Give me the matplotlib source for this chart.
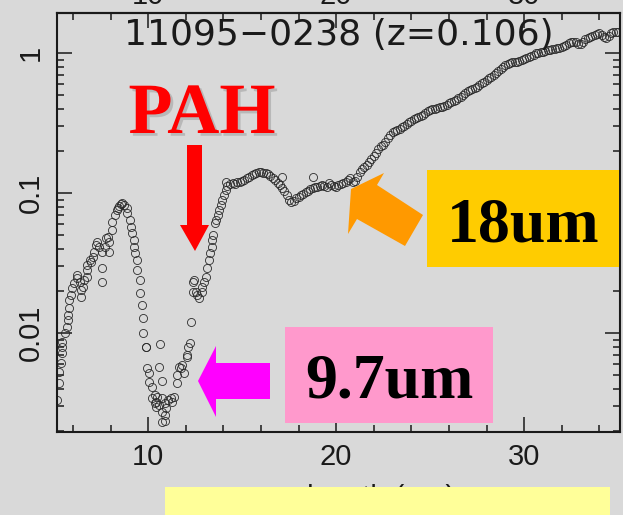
import numpy as np
import matplotlib
matplotlib.use("Agg")
import matplotlib.pyplot as plt
from matplotlib.patches import Polygon, Rectangle
from matplotlib.ticker import FixedLocator, FuncFormatter, LogLocator, MultipleLocator, NullFormatter
import matplotlib.patheffects as pe

# short-wavelength part of the spectrum (noisy, silicate absorption)
wave_sl = [5.16, 5.23, 5.28, 5.34, 5.39, 5.39, 5.44, 5.55, 5.66, 5.71, 5.71, 5.81, 5.81, 5.92,
           5.97, 6.08, 6.19, 6.24, 6.35, 6.45, 6.45, 6.51, 6.61, 6.72, 6.72, 6.77, 6.88, 6.98,
           7.04, 7.14, 7.25, 7.30, 7.41, 7.52, 7.52, 7.57, 7.68, 7.78, 7.84, 7.94, 7.94, 8.05,
           8.10, 8.21, 8.32, 8.37, 8.47, 8.58, 8.63, 8.74, 8.85, 8.90, 9.01, 9.11, 9.16, 9.22,
           9.27, 9.32, 9.38, 9.43, 9.54, 9.59, 9.65, 9.70, 9.75, 9.86, 9.91, 9.96, 10.02, 10.07,
           10.18, 10.23, 10.34, 10.34, 10.44, 10.44, 10.49, 10.60, 10.60, 10.65, 10.71, 10.76,
           10.76, 10.76, 10.87, 10.87, 10.92, 10.97, 11.03, 11.24, 11.29, 11.40, 11.51, 11.56,
           11.66, 11.77, 11.82, 11.93, 12.04, 12.09, 12.14, 12.20, 12.30, 12.36, 12.36, 12.46,
           12.57, 12.62, 12.73, 12.84, 12.89, 12.99, 13.10, 13.15, 13.26, 13.31, 13.37, 13.42,
           13.47, 13.53, 13.63, 13.69, 13.79, 13.90, 13.95, 14.06, 14.16, 14.16]
flux_sl = [0.00334, 0.00442, 0.00529, 0.00614, 0.00722, 0.00798, 0.00867, 0.0101, 0.0111, 0.0125,
           0.0135, 0.0152, 0.0173, 0.0188, 0.0211, 0.0229, 0.0248, 0.0261, 0.0232, 0.0204, 0.0182,
           0.0214, 0.0240, 0.0252, 0.0283, 0.0308, 0.0334, 0.0323, 0.0351, 0.0381, 0.0427, 0.0449,
           0.0413, 0.0381, 0.0232, 0.0293, 0.0413, 0.0480, 0.0488, 0.0449, 0.0381, 0.0547, 0.0624,
           0.0700, 0.0760, 0.0785, 0.0811, 0.0839, 0.0853, 0.0824, 0.0785, 0.0723, 0.0644, 0.0574,
           0.0520, 0.0463, 0.0413, 0.0375, 0.0334, 0.0283, 0.0240, 0.0194, 0.0159, 0.0128, 0.0101,
           0.00798, 0.00798, 0.00565, 0.00520, 0.00449, 0.00413, 0.00345, 0.00318, 0.00362,
           0.00298, 0.00323, 0.00351, 0.00308, 0.00574, 0.00839, 0.00456, 0.00274, 0.00233,
           0.00345, 0.00318, 0.00237, 0.00261, 0.00293, 0.00334, 0.00345, 0.00323, 0.00351,
           0.00442, 0.00504, 0.00574, 0.00565, 0.00593, 0.00520, 0.00677, 0.00700, 0.00798,
           0.00853, 0.0121, 0.0232, 0.0197, 0.0240, 0.0197, 0.0188, 0.0179, 0.0197, 0.0214,
           0.0232, 0.0252, 0.0293, 0.0334, 0.0375, 0.0413, 0.0463, 0.0504, 0.0614, 0.0644,
           0.0700, 0.0760, 0.0824, 0.0896, 0.0972, 0.1056, 0.1205]

# long-wavelength part of the spectrum
wave_ll = [14.20, 14.35, 14.50, 14.62, 14.75, 14.88, 15.00, 15.12, 15.25, 15.38, 15.50, 15.62,
           15.75, 15.88, 16.00, 16.12, 16.25, 16.38, 16.50, 16.62, 16.75, 16.88, 17.00, 17.12,
           17.14, 17.25, 17.38, 17.50, 17.62, 17.75, 17.88, 18.00, 18.12, 18.25, 18.38, 18.50,
           18.62, 18.75, 18.79, 18.88, 19.00, 19.12, 19.25, 19.38, 19.50, 19.62, 19.75, 19.88,
           20.00, 20.12, 20.25, 20.38, 20.50, 20.62, 20.75, 20.88, 21.00, 21.12, 21.25, 21.38,
           21.50, 21.62, 21.75, 21.88, 22.00, 22.12, 22.25, 22.38, 22.50, 22.62, 22.75, 22.88,
           23.00, 23.12, 23.25, 23.38, 23.50, 23.62, 23.75, 23.88, 24.00, 24.12, 24.25, 24.38,
           24.50, 24.62, 24.75, 24.88, 25.00, 25.12, 25.25, 25.38, 25.50, 25.62, 25.75, 25.88,
           26.00, 26.12, 26.25, 26.38, 26.50, 26.62, 26.75, 26.88, 27.00, 27.12, 27.25, 27.38,
           27.50, 27.62, 27.75, 27.88, 28.00, 28.12, 28.25, 28.38, 28.50, 28.62, 28.75, 28.88,
           29.00, 29.12, 29.25, 29.38, 29.50, 29.62, 29.75, 29.88, 30.00, 30.12, 30.25, 30.38,
           30.50, 30.62, 30.75, 30.88, 31.00, 31.12, 31.25, 31.38, 31.50, 31.62, 31.75, 31.88,
           32.00, 32.12, 32.25, 32.38, 32.50, 32.62, 32.75, 32.88, 33.00, 33.12, 33.25, 33.38,
           33.50, 33.62, 33.75, 33.88, 34.00, 34.12, 34.25, 34.38, 34.50, 34.62, 34.75, 34.88,
           35.00]
flux_ll = [0.112, 0.116, 0.119, 0.117, 0.120, 0.121, 0.122, 0.124, 0.128, 0.131, 0.134, 0.137,
           0.140, 0.142, 0.141, 0.139, 0.140, 0.137, 0.133, 0.129, 0.124, 0.118, 0.114, 0.109,
           0.131, 0.104, 0.097, 0.090, 0.086, 0.088, 0.092, 0.094, 0.097, 0.099, 0.102, 0.104,
           0.107, 0.109, 0.131, 0.111, 0.110, 0.112, 0.115, 0.113, 0.111, 0.118, 0.115, 0.112,
           0.111, 0.114, 0.116, 0.119, 0.121, 0.125, 0.128, 0.121, 0.122, 0.131, 0.142, 0.150,
           0.155, 0.160, 0.166, 0.176, 0.186, 0.194, 0.206, 0.216, 0.223, 0.231, 0.248, 0.262,
           0.272, 0.279, 0.284, 0.290, 0.297, 0.303, 0.313, 0.322, 0.330, 0.337, 0.344, 0.351,
           0.357, 0.364, 0.376, 0.388, 0.394, 0.398, 0.403, 0.407, 0.410, 0.413, 0.420, 0.430,
           0.440, 0.447, 0.454, 0.462, 0.476, 0.491, 0.506, 0.521, 0.538, 0.549, 0.558, 0.567,
           0.578, 0.595, 0.610, 0.628, 0.645, 0.662, 0.682, 0.702, 0.720, 0.742, 0.775, 0.800,
           0.820, 0.840, 0.853, 0.860, 0.865, 0.868, 0.880, 0.894, 0.905, 0.920, 0.938, 0.955,
           0.978, 1.000, 1.010, 1.018, 1.022, 1.035, 1.048, 1.058, 1.068, 1.080, 1.092, 1.100,
           1.108, 1.125, 1.150, 1.180, 1.195, 1.200, 1.205, 1.160, 1.170, 1.205, 1.260, 1.295,
           1.310, 1.330, 1.352, 1.375, 1.396, 1.350, 1.310, 1.290, 1.330, 1.390, 1.410, 1.420,
           1.425]

y_ticks = [0.01, 0.1, 1]
title = "11095\u22120238 (z=0.106)"

BG = "#d9d9d9"
INK = "#1a1a1a"
W, H = 623, 515


def fpx(points):
    # pixel positions on the slide -> figure fraction
    return [(x / W, 1 - y / H) for x, y in points]


def add_box(fig, x0, y0, x1, y1, color):
    fig.add_artist(Rectangle((x0 / W, 1 - y1 / H), (x1 - x0) / W, (y1 - y0) / H,
                             transform=fig.transFigure, facecolor=color, edgecolor="none", zorder=5))


def add_arrow(fig, points, color):
    fig.add_artist(Polygon(fpx(points), closed=True, transform=fig.transFigure,
                           facecolor=color, edgecolor="none", zorder=6))


plt.rcParams["font.family"] = ["Liberation Sans", "DejaVu Sans"]

fig = plt.figure(figsize=(6.23, 5.15), dpi=100, facecolor=BG)
ax = fig.add_axes([57 / W, 1 - 431.7 / H, (620 - 57) / W, (431.7 - 12.7) / H])
ax.set_facecolor(BG)

style = dict(linestyle="none", marker="o", markersize=5.8, markerfacecolor="none",
             markeredgecolor="#2a2a2a", markeredgewidth=0.6)
ax.plot(wave_sl, flux_sl, **style)
ax.plot(wave_ll, flux_ll, **style)

ax.set_yscale("log")
ax.set_xlim(5.15, 35.1)
ax.set_ylim(0.00198, 1.95)

ax.xaxis.set_major_locator(MultipleLocator(10))
ax.xaxis.set_minor_locator(MultipleLocator(2))
ax.yaxis.set_major_locator(FixedLocator(y_ticks))
ax.yaxis.set_major_formatter(FuncFormatter(lambda v, p: f"{v:g}"))
ax.yaxis.set_minor_locator(LogLocator(base=10, subs=np.arange(2, 10)))
ax.yaxis.set_minor_formatter(NullFormatter())

for side in ax.spines.values():
    side.set_linewidth(1.5)
    side.set_color(INK)
ax.tick_params(which="both", direction="in", left=True, right=True, top=False, bottom=True,
               color=INK, width=1.1, labelsize=21, labelcolor=INK)
ax.tick_params(which="major", length=10.8)
ax.tick_params(which="minor", length=5)
ax.tick_params(axis="x", which="major", pad=8)
ax.tick_params(axis="y", which="major", pad=9, labelrotation=90)
plt.setp(ax.get_yticklabels(), va="center")

top = ax.secondary_xaxis("top")
top.xaxis.set_major_locator(MultipleLocator(10))
top.xaxis.set_minor_locator(MultipleLocator(2))
top.spines["top"].set_linewidth(1.5)
top.tick_params(which="both", direction="in", color=INK, width=1.1, labelsize=21, labelcolor=INK)
top.tick_params(which="major", length=10.8, pad=2)
top.tick_params(which="minor", length=5)

ax.text(0.5, 0.947, title, transform=ax.transAxes, ha="center", va="center",
        fontsize=26, family="DejaVu Sans", color=INK)

ax.set_xlabel("wavelength (\u03bcm)", fontsize=21, color=INK)
ax.xaxis.set_label_coords(0.515, -0.125)

# slide annotations
add_box(fig, 165, 487, 610, 515, "#ffff99")
add_box(fig, 427, 170, 619, 267, "#ffcc00")
add_box(fig, 285, 327, 493, 423, "#ff99cc")

add_arrow(fig, [(187, 145), (202, 145), (202, 225), (209, 225), (195, 251),
                (180, 225), (187, 225)], "#ff0000")
add_arrow(fig, [(198, 381), (216, 346), (216, 363), (270, 363), (270, 399),
                (216, 399), (216, 417)], "#ff00ff")
add_arrow(fig, [(351, 189), (384, 173), (377, 185), (423, 215), (405, 246),
                (357, 219), (348, 234)], "#ff9900")

fig.text(202 / W, 1 - 133 / H, "PAH", ha="center", va="baseline", fontsize=52,
         family="Liberation Serif", weight="bold", color="#ff0000", zorder=7,
         path_effects=[pe.withSimplePatchShadow(offset=(2, -2), shadow_rgbFace="0.6", alpha=0.5)])
fig.text(523 / W, 1 - 242 / H, "18um", ha="center", va="baseline", fontsize=46,
         family="Liberation Serif", weight="bold", color="black", zorder=7)
fig.text(389 / W, 1 - 398 / H, "9.7um", ha="center", va="baseline", fontsize=46,
         family="Liberation Serif", weight="bold", color="black", zorder=7)

fig.savefig("out.png", dpi=100, facecolor=BG)
